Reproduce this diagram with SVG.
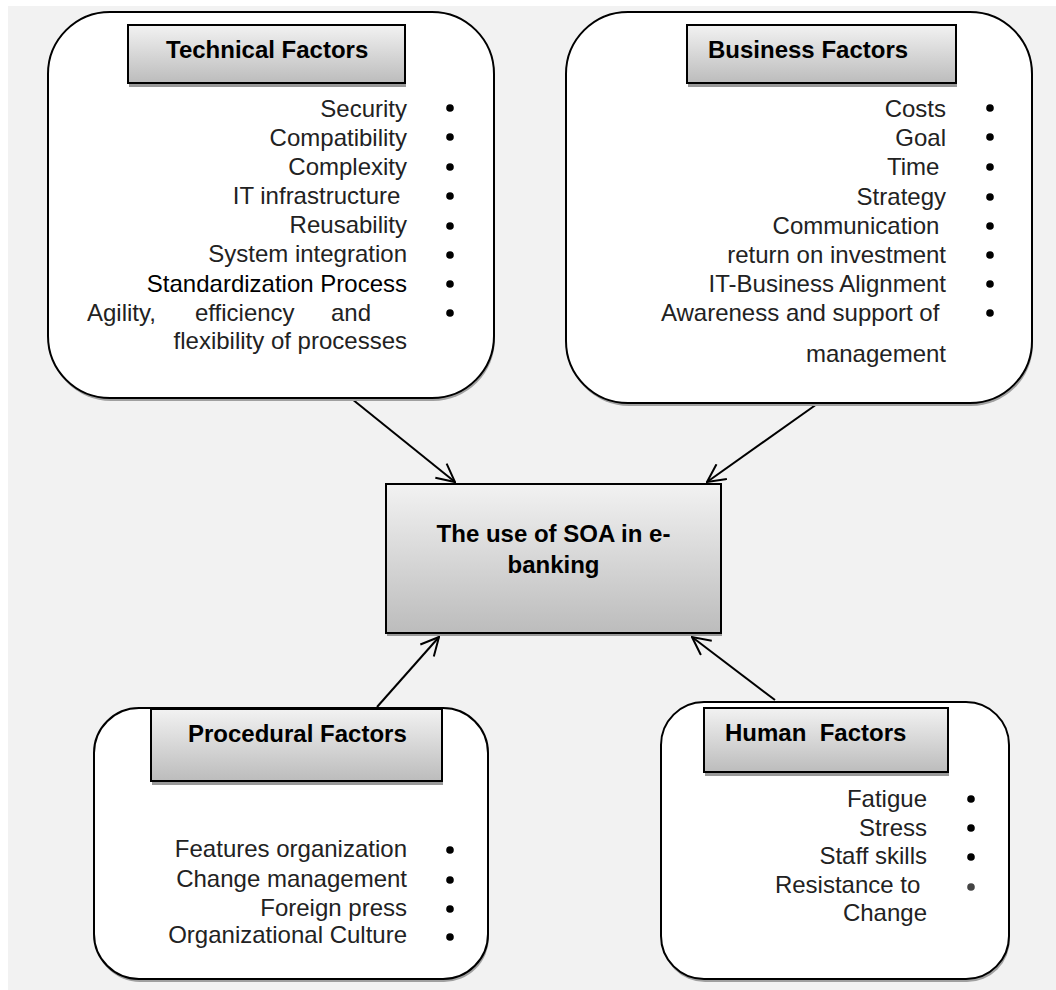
<svg xmlns="http://www.w3.org/2000/svg" width="1056" height="990" viewBox="0 0 1056 990">
<defs>
<linearGradient id="hg" x1="0" y1="0" x2="0" y2="1">
<stop offset="0" stop-color="#f2f2f2"/>
<stop offset="1" stop-color="#bcbcbc"/>
</linearGradient>
<marker id="arr" viewBox="0 0 20 20" refX="19" refY="10" markerWidth="20" markerHeight="20" markerUnits="userSpaceOnUse" orient="auto">
<path d="M1,1 L19,10 L1,19" fill="none" stroke="#000" stroke-width="2"/>
</marker>
<style>
.bg{fill:#f2f2f2}
.outer{fill:#fff;stroke:#000;stroke-width:2}
.oshadow{fill:#a0a0a0}
.head{fill:url(#hg);stroke:#000;stroke-width:2}
.hshadow{fill:#999}
.ttl{font-family:"Liberation Sans",Arial,sans-serif;font-size:24px;font-weight:bold;fill:#000;white-space:pre}
.it{font-family:"Liberation Sans",Arial,sans-serif;font-size:24px;fill:#222;text-anchor:end;white-space:pre}
.dot{fill:#000}
.conn{stroke:#000;stroke-width:2;fill:none}
</style>
</defs>
<rect class="bg" x="8" y="6" width="1048" height="984"/>

<g id="connectors">
<line class="conn" x1="352" y1="399" x2="455" y2="482" marker-end="url(#arr)"/>
<line class="conn" x1="817" y1="404" x2="707" y2="482" marker-end="url(#arr)"/>
<line class="conn" x1="377" y1="707" x2="439" y2="637" marker-end="url(#arr)"/>
<line class="conn" x1="775" y1="700" x2="692" y2="637" marker-end="url(#arr)"/>
</g>

<g id="technical">
<rect class="oshadow" x="49" y="15" width="446" height="386" rx="62" ry="62"/>
<rect class="outer" x="48" y="12" width="446" height="386" rx="62" ry="62"/>
<rect class="hshadow" x="129" y="29" width="277" height="58"/>
<rect class="head" x="128" y="25" width="277" height="58"/>
<text class="ttl" x="166" y="58">Technical Factors</text>
<text class="it" x="407" y="117">Security</text>
<text class="it" x="407" y="146">Compatibility</text>
<text class="it" x="407" y="175">Complexity</text>
<text class="it" x="407" y="204">IT infrastructure </text>
<text class="it" x="407" y="233">Reusability</text>
<text class="it" x="407" y="262">System integration</text>
<text class="it" x="407" y="292" style="fill:#000">Standardization Process</text>
<text class="it" y="321" style="text-anchor:start"><tspan x="87">Agility,</tspan><tspan x="195">efficiency</tspan><tspan x="331">and</tspan></text>
<text class="it" x="407" y="349">flexibility of processes</text>
<circle class="dot" cx="450" cy="108" r="3.8"/>
<circle class="dot" cx="450" cy="137" r="3.8"/>
<circle class="dot" cx="450" cy="167" r="3.8"/>
<circle class="dot" cx="450" cy="196" r="3.8"/>
<circle class="dot" cx="450" cy="226" r="3.8"/>
<circle class="dot" cx="450" cy="255" r="3.8"/>
<circle class="dot" cx="450" cy="284" r="3.8"/>
<circle class="dot" cx="450" cy="313" r="3.8"/>
</g>

<g id="business">
<rect class="oshadow" x="567" y="15" width="466" height="391" rx="62" ry="62"/>
<rect class="outer" x="566" y="12" width="466" height="391" rx="62" ry="62"/>
<rect class="hshadow" x="688" y="29" width="269" height="58"/>
<rect class="head" x="687" y="25" width="269" height="58"/>
<text class="ttl" x="708" y="58">Business Factors</text>
<text class="it" x="946" y="117">Costs</text>
<text class="it" x="946" y="146">Goal</text>
<text class="it" x="946" y="175">Time </text>
<text class="it" x="946" y="205">Strategy</text>
<text class="it" x="946" y="234">Communication </text>
<text class="it" x="946" y="263">return on investment</text>
<text class="it" x="946" y="292">IT-Business Alignment</text>
<text class="it" x="946" y="321">Awareness and support of </text>
<text class="it" x="946" y="362">management</text>
<circle class="dot" cx="990" cy="108" r="3.8"/>
<circle class="dot" cx="990" cy="137" r="3.8"/>
<circle class="dot" cx="990" cy="167" r="3.8"/>
<circle class="dot" cx="990" cy="197" r="3.8"/>
<circle class="dot" cx="990" cy="226" r="3.8"/>
<circle class="dot" cx="990" cy="255" r="3.8"/>
<circle class="dot" cx="990" cy="284" r="3.8"/>
<circle class="dot" cx="990" cy="313" r="3.8"/>
</g>

<g id="center">
<rect class="hshadow" x="387" y="487" width="335" height="149"/>
<rect class="head" x="386" y="484" width="335" height="149"/>
<text class="ttl" x="553.5" y="542" text-anchor="middle">The use of SOA in e-</text>
<text class="ttl" x="553.5" y="573" text-anchor="middle">banking</text>
</g>

<g id="procedural">
<rect class="oshadow" x="95" y="711" width="394" height="271" rx="45" ry="45"/>
<rect class="outer" x="94" y="708" width="394" height="271" rx="45" ry="45"/>
<rect class="hshadow" x="152" y="713" width="291" height="72"/>
<rect class="head" x="151" y="709" width="291" height="72"/>
<text class="ttl" x="188" y="742">Procedural Factors</text>
<text class="it" x="407" y="857">Features organization</text>
<text class="it" x="407" y="887">Change management</text>
<text class="it" x="407" y="916">Foreign press</text>
<text class="it" x="407" y="943">Organizational Culture</text>
<circle class="dot" cx="450" cy="850" r="3.8"/>
<circle class="dot" cx="450" cy="880" r="3.8"/>
<circle class="dot" cx="450" cy="909" r="3.8"/>
<circle class="dot" cx="450" cy="937" r="3.8"/>
</g>

<g id="human">
<rect class="oshadow" x="662" y="705" width="348" height="277" rx="43" ry="43"/>
<rect class="outer" x="661" y="702" width="348" height="277" rx="43" ry="43"/>
<rect class="hshadow" x="705" y="712" width="244" height="64"/>
<rect class="head" x="704" y="708" width="244" height="64"/>
<text class="ttl" x="725" y="741">Human  Factors</text>
<text class="it" x="927" y="807">Fatigue</text>
<text class="it" x="927" y="836">Stress</text>
<text class="it" x="927" y="864">Staff skills</text>
<text class="it" x="927" y="893">Resistance to </text>
<text class="it" x="927" y="921">Change</text>
<circle class="dot" cx="971" cy="799" r="3.8"/>
<circle class="dot" cx="971" cy="828" r="3.8"/>
<circle class="dot" cx="971" cy="857" r="3.8"/>
<circle class="dot" cx="971" cy="887" r="3.8" style="fill:#444"/>
</g>
</svg>
